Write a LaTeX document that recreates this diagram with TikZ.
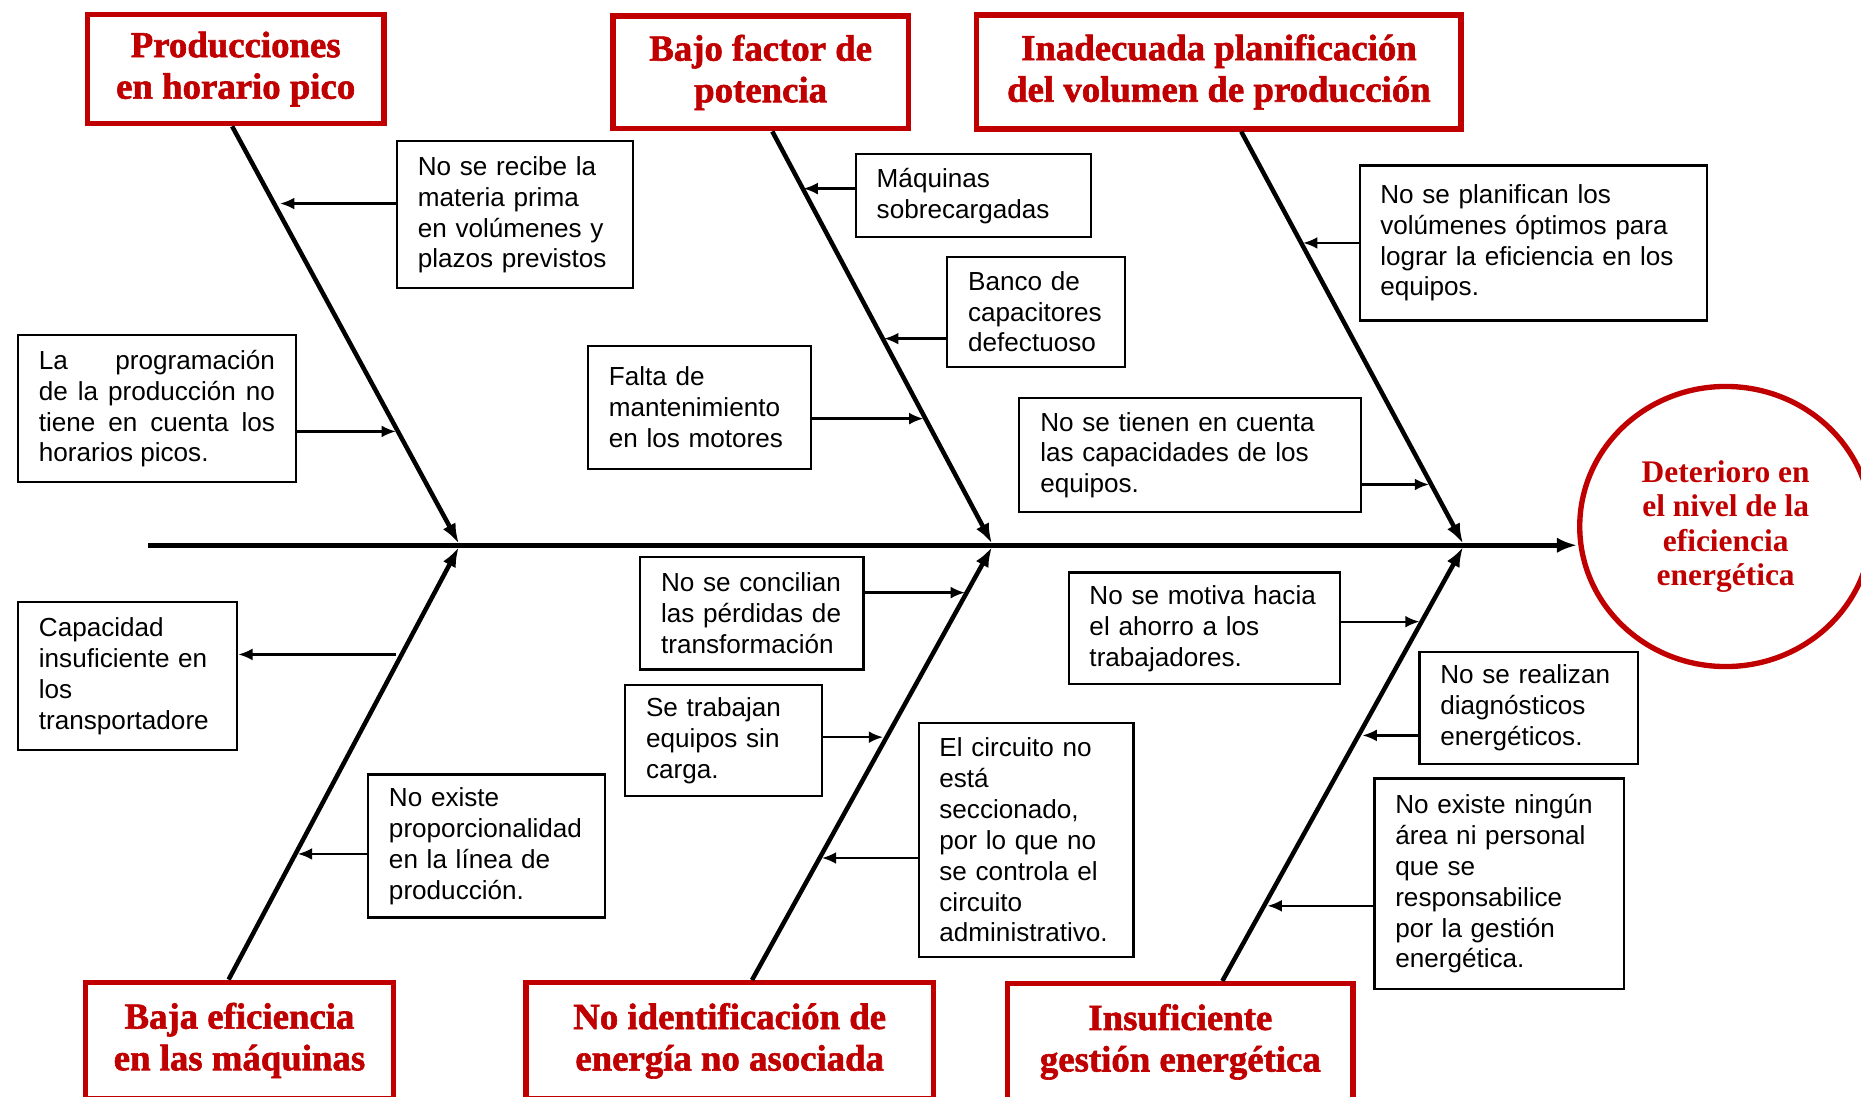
\documentclass[tikz,border=0pt]{standalone}
\usepackage{fontspec}
\setmainfont{Liberation Sans}
\newfontfamily\tfont{Liberation Serif}
\newfontfamily\hfont[FakeBold=1.6]{Liberation Serif}
\usetikzlibrary{arrows.meta,shapes.geometric}
\definecolor{myred}{RGB}{192,0,0}
\hyphenpenalty=10000
\exhyphenpenalty=10000
\begin{document}
\begin{tikzpicture}[x=1pt,y=-1pt,
  cbox/.style={draw=black,line width=1.8pt,fill=white,inner xsep=17.5pt,inner ysep=0pt,align=left,font=\fontsize{22}{26}\selectfont},
  tbox/.style={draw=myred,line width=4.5pt,fill=white,align=center,inner sep=0pt,text=myred,font=\hfont\bfseries\fontsize{31}{35}\selectfont},
  effect/.style={ellipse,draw=myred,line width=4.5pt,fill=white,align=center,inner sep=0pt,text=myred,font=\tfont\bfseries\fontsize{26.5}{29}\selectfont},
  bone/.style={line width=3.8pt,-{Latex[length=17pt,width=12pt]},shorten >=1.5pt},
  spine/.style={line width=3.8pt,-{Latex[length=17pt,width=13pt]}},
  sarrow/.style={line width=1.9pt,-{Latex[length=12pt,width=10pt]}}
]
\useasboundingbox (0,0) rectangle (1568,924);

% category boxes
\node[tbox,minimum width=250pt,minimum height=92pt] (P1) at (198.6,58.2) {Producciones\\en horario pico};
\node[tbox,minimum width=249pt,minimum height=95pt] (P2) at (640.9,61.0) {Bajo factor de\\potencia};
\node[tbox,minimum width=408pt,minimum height=96pt] (P3) at (1027,60.6) {Inadecuada planificación\\del volumen de producción};
\node[tbox,minimum width=260pt,minimum height=98pt] (P4) at (201.8,876.6) {Baja eficiencia\\en las máquinas};
\node[tbox,minimum width=343pt,minimum height=98pt] (P5) at (614.8,877.0) {No identificación de\\energía no asociada};
\node[tbox,minimum width=291pt,minimum height=98pt] (P6) at (994.5,877.8) {Insuficiente\\gestión energética};

% effect
\node[effect,minimum width=246pt,minimum height=236pt] (E) at (1454,443.6) {Deterioro en\\el nivel de la\\eficiencia\\energética};

% cause boxes
\node[cbox,minimum width=199pt,minimum height=124pt,text width=164pt] (A) at (434,181) {No se recibe la\\materia prima\\en volúmenes y\\plazos previstos};
\node[cbox,minimum width=234pt,minimum height=124pt,text width=199pt,align=justify] (B) at (132.2,344.4) {La programación\linebreak de la producción no\linebreak tiene en cuenta los\linebreak horarios picos.};
\node[cbox,minimum width=198.6pt,minimum height=70pt,text width=163pt] (C) at (820.2,164.9) {Máquinas\\sobrecargadas};
\node[cbox,minimum width=150pt,minimum height=92.6pt,text width=115pt] (D) at (873.2,262.7) {Banco de\\capacitores\\defectuoso};
\node[cbox,minimum width=188pt,minimum height=103.6pt,text width=153pt] (Ec) at (589.5,343.2) {Falta de\\mantenimiento\\en los motores};
\node[cbox,minimum width=287.7pt,minimum height=96.4pt,text width=252pt] (F) at (1002.5,383.5) {No se tienen en cuenta\\las capacidades de los\\equipos.};
\node[cbox,minimum width=293pt,minimum height=130.6pt,text width=258pt] (G) at (1292,204.7) {No se planifican los\\volúmenes óptimos para\\lograr la eficiencia en los\\equipos.};
\node[cbox,minimum width=184.6pt,minimum height=124.5pt,text width=149.6pt] (H) at (107.6,569.8) {Capacidad\\insuficiente en\\los\\transportadore};
\node[cbox,minimum width=199.5pt,minimum height=120.4pt,text width=164.5pt] (I) at (410,712.8) {No existe\\proporcionalidad\\en la línea de\\producción.};
\node[cbox,minimum width=188pt,minimum height=94.5pt,text width=153pt] (J) at (633.5,516.8) {No se concilian\\las pérdidas de\\transformación};
\node[cbox,minimum width=165.6pt,minimum height=93.7pt,text width=130.6pt] (K) at (609.6,624) {Se trabajan\\equipos sin\\carga.};
\node[cbox,minimum width=181pt,minimum height=197pt,text width=146pt] (L) at (864.5,707.7) {El circuito no\\está\\seccionado,\\por lo que no\\se controla el\\circuito\\administrativo.};
\node[cbox,minimum width=228.5pt,minimum height=94.3pt,text width=193.5pt] (M) at (1014.7,529.5) {No se motiva hacia\\el ahorro a los\\trabajadores.};
\node[cbox,minimum width=183.7pt,minimum height=94.4pt,text width=148.7pt] (N) at (1287.9,596.5) {No se realizan\\diagnósticos\\energéticos.};
\node[cbox,minimum width=210pt,minimum height=177.6pt,text width=175pt] (O) at (1263.1,744.7) {No existe ningún\\área ni personal\\que se\\responsabilice\\por la gestión\\energética.};

% spine and bones
\coordinate (S) at (125,459.4);
\coordinate (J1) at (387.4,459.4);
\coordinate (J2) at (836.6,459.4);
\coordinate (J3) at (1233.5,459.4);
\draw[bone] ([xshift=-3pt]P1.south) -- (J1);
\draw[bone] ([xshift=9.8pt]P2.south) -- (J2);
\draw[bone] ([xshift=18.8pt]P3.south) -- (J3);
\draw[bone] ([xshift=-9.2pt]P4.north) -- (J1);
\draw[bone] ([xshift=18.8pt]P5.north) -- (J2);
\draw[bone] ([xshift=35.4pt]P6.north) -- (J3);
\draw[spine] (S) -- (S -| E.west);

% cause arrows
\coordinate (a) at (236,171.5);
\coordinate (b) at (333.5,363.5);
\coordinate (c) at (677,158.9);
\coordinate (d) at (745,285.3);
\coordinate (e) at (778,352.7);
\coordinate (g) at (1098,204.7);
\coordinate (f) at (1204,408.2);
\coordinate (h) at (333.3,551.4);
\coordinate (i) at (251,719.5);
\coordinate (j) at (813,499.3);
\coordinate (k) at (744,621.1);
\coordinate (l) at (692.5,722.9);
\coordinate (m) at (1196,523.8);
\coordinate (n) at (1148,619.6);
\coordinate (o) at (1068,763.2);
\draw[sarrow] (A.west |- a) -- (a);
\draw[sarrow] (B.east |- b) -- (b);
\draw[sarrow] (C.west |- c) -- (c);
\draw[sarrow] (D.west |- d) -- (d);
\draw[sarrow] (Ec.east |- e) -- (e);
\draw[sarrow] (G.west |- g) -- (g);
\draw[sarrow] (F.east |- f) -- (f);
\draw[sarrow] (h) -- (H.east |- h);
\draw[sarrow] (I.west |- i) -- (i);
\draw[sarrow] (J.east |- j) -- (j);
\draw[sarrow] (K.east |- k) -- (k);
\draw[sarrow] (L.west |- l) -- (l);
\draw[sarrow] (M.east |- m) -- (m);
\draw[sarrow] (N.west |- n) -- (n);
\draw[sarrow] (O.west |- o) -- (o);
\end{tikzpicture}
\end{document}
